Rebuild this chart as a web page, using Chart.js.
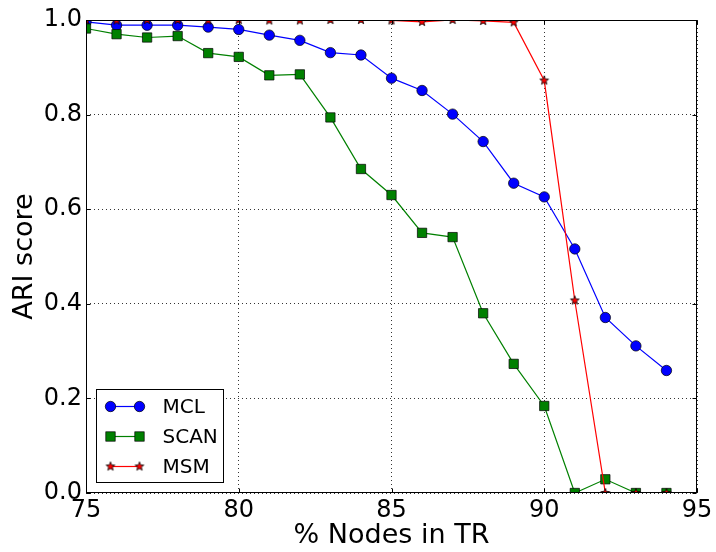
<!DOCTYPE html>
<html>
<head>
<meta charset="utf-8">
<title>ARI score vs % Nodes in TR</title>
<script src="https://cdn.jsdelivr.net/npm/chart.js@4.4.1/dist/chart.umd.min.js"></script>
<style>
  html, body { margin: 0; padding: 0; background: #fff; }
  canvas { display: block; }
</style>
</head>
<body>
<canvas id="ari" width="716" height="552"></canvas>
<script>
const nodesInTR = [75, 76, 77, 78, 79, 80, 81, 82, 83, 84, 85, 86, 87, 88, 89, 90, 91, 92, 93, 94]
const mclScores = [0.996, 0.989, 0.989, 0.989, 0.985, 0.980, 0.968, 0.957, 0.931, 0.926, 0.877, 0.851, 0.801, 0.743, 0.655, 0.626, 0.516, 0.371, 0.311, 0.259]
const scanScores = [0.982, 0.970, 0.963, 0.966, 0.930, 0.922, 0.883, 0.885, 0.794, 0.685, 0.630, 0.550, 0.541, 0.380, 0.273, 0.184, 0.0, 0.029, 0.0, 0.0]
const msmScores = [1.0, 0.999, 1.0, 1.0, 0.999, 1.0, 0.999, 0.999, 1.0, 1.0, 0.999, 0.996, 1.0, 0.998, 0.995, 0.872, 0.407, 0.0, 0.0, 0.0]
const xTicks = [75, 80, 85, 90, 95]
const yTicks = [0.0, 0.2, 0.4, 0.6, 0.8, 1.0]

const FONT = '"DejaVu Sans", "Liberation Sans", sans-serif'

function pairs(ys) {
  return nodesInTR.map((x, i) => ({ x: x, y: ys[i] }))
}

// filled five-point star with a thin black edge
function starMarker(r, fill) {
  const size = 12
  const c = document.createElement('canvas')
  c.width = size
  c.height = size
  const g = c.getContext('2d')
  g.translate(size / 2, size / 2)
  g.beginPath()
  for (let i = 0; i < 10; i++) {
    const rad = i % 2 === 0 ? r : r * 0.42
    const a = -Math.PI / 2 + i * Math.PI / 5
    g.lineTo(rad * Math.cos(a), rad * Math.sin(a))
  }
  g.closePath()
  g.fillStyle = fill
  g.fill()
  g.lineWidth = 0.8
  g.strokeStyle = '#000'
  g.stroke()
  return c
}

const star = starMarker(4.6, '#ff0000')

// box round the plot plus inward tick marks on all four sides
const framePlugin = {
  id: 'frame',
  afterDatasetsDraw(chart) {
    const { ctx, chartArea: a, scales } = chart
    const L = Math.round(a.left) + 0.5, R = Math.round(a.right) - 0.5
    const T = Math.round(a.top) + 0.5, B = Math.round(a.bottom) - 0.5
    ctx.save()
    ctx.strokeStyle = '#000'
    ctx.lineWidth = 1
    ctx.setLineDash([])
    ctx.strokeRect(L, T, R - L, B - T)
    ctx.beginPath()
    xTicks.forEach(v => {
      const px = Math.round(scales.x.getPixelForValue(v)) + 0.5
      ctx.moveTo(px, B); ctx.lineTo(px, B - 4)
      ctx.moveTo(px, T); ctx.lineTo(px, T + 4)
    })
    yTicks.forEach(v => {
      const py = Math.round(scales.y.getPixelForValue(v)) + 0.5
      ctx.moveTo(L, py); ctx.lineTo(L + 4, py)
      ctx.moveTo(R, py); ctx.lineTo(R - 4, py)
    })
    ctx.stroke()
    ctx.restore()
  }
}

// legend in the lower left corner of the plot, two markers per sample line
const legendPlugin = {
  id: 'cornerLegend',
  afterDraw(chart) {
    const { ctx, chartArea: a } = chart
    const sets = chart.data.datasets
    const left = Math.round(a.left) + 10.5
    const w = 127, h = 93
    const top = Math.round(a.bottom) - 10.5 - h
    ctx.save()
    ctx.fillStyle = '#fff'
    ctx.fillRect(left, top, w, h)
    ctx.strokeStyle = '#000'
    ctx.lineWidth = 1
    ctx.strokeRect(left, top, w, h)
    ctx.font = '20px ' + FONT
    ctx.textBaseline = 'middle'
    ctx.textAlign = 'left'
    sets.forEach((ds, i) => {
      const y = top + 17 + i * 30
      const x0 = left + 14, x1 = left + 43
      ctx.strokeStyle = ds.borderColor
      ctx.lineWidth = ds.borderWidth
      ctx.beginPath()
      ctx.moveTo(x0, y); ctx.lineTo(x1, y)
      ctx.stroke()
      ;[x0, x1].forEach(x => {
        ctx.fillStyle = ds.pointBackgroundColor
        ctx.strokeStyle = '#000'
        ctx.lineWidth = ds.pointBorderWidth
        if (ds.pointStyle === 'circle') {
          ctx.beginPath()
          ctx.arc(x, y, ds.pointRadius, 0, Math.PI * 2)
          ctx.fill(); ctx.stroke()
        } else if (ds.pointStyle === 'rect') {
          const s = ds.pointRadius * Math.SQRT1_2
          ctx.fillRect(x - s, y - s, 2 * s, 2 * s)
          ctx.strokeRect(x - s, y - s, 2 * s, 2 * s)
        } else {
          ctx.drawImage(ds.pointStyle, x - ds.pointStyle.width / 2, y - ds.pointStyle.height / 2)
        }
      })
      ctx.fillStyle = '#000'
      ctx.fillText(ds.label, left + 66, y + 1)
    })
    ctx.restore()
  }
}

const gridStyle = { color: '#000', lineWidth: 0.8, drawTicks: false, borderDash: [1, 3] }

new Chart(document.getElementById('ari'), {
  type: 'line',
  data: {
    datasets: [
      {
        label: 'MCL', data: pairs(mclScores), order: 3,
        borderColor: '#0000ff', borderWidth: 1.2,
        pointStyle: 'circle', pointRadius: 5.2, pointBackgroundColor: '#0000ff',
        pointBorderColor: '#000', pointBorderWidth: 0.7
      },
      {
        label: 'SCAN', data: pairs(scanScores), order: 2,
        borderColor: '#008000', borderWidth: 1.2,
        pointStyle: 'rect', pointRadius: 6.6, pointBackgroundColor: '#008000',
        pointBorderColor: '#000', pointBorderWidth: 0.7
      },
      {
        label: 'MSM', data: pairs(msmScores), order: 1,
        borderColor: '#ff0000', borderWidth: 1.2,
        pointStyle: star, pointRadius: 5, pointBackgroundColor: '#ff0000',
        pointBorderColor: '#000', pointBorderWidth: 0.7
      }
    ]
  },
  options: {
    responsive: false,
    animation: false,
    devicePixelRatio: 1,
    layout: { padding: { left: 0, right: 19, top: 20, bottom: 0 } },
    plugins: {
      legend: { display: false },
      tooltip: { enabled: false }
    },
    elements: { line: { tension: 0, fill: false } },
    scales: {
      x: {
        type: 'linear', min: 75, max: 95,
        afterBuildTicks: s => { s.ticks = xTicks.map(v => ({ value: v })) },
        ticks: { color: '#000', font: { family: FONT, size: 24 }, padding: 3, maxRotation: 0 },
        grid: gridStyle,
        border: { display: false, dash: [1, 3] },
        title: { display: true, text: '% Nodes in TR', color: '#000', font: { family: FONT, size: 27 }, padding: { top: 0, bottom: 0 } },
        afterFit: s => { s.height = 59 }
      },
      y: {
        type: 'linear', min: 0, max: 1,
        afterBuildTicks: s => { s.ticks = yTicks.map(v => ({ value: v })) },
        ticks: { color: '#000', font: { family: FONT, size: 24 }, padding: 4, callback: v => v.toFixed(1) },
        grid: gridStyle,
        border: { display: false, dash: [1, 3] },
        title: { display: true, text: 'ARI score', color: '#000', font: { family: FONT, size: 27 }, padding: { top: 9, bottom: 0 } },
        afterFit: s => { s.width = 86 }
      }
    }
  },
  plugins: [framePlugin, legendPlugin]
})
</script>
</body>
</html>
